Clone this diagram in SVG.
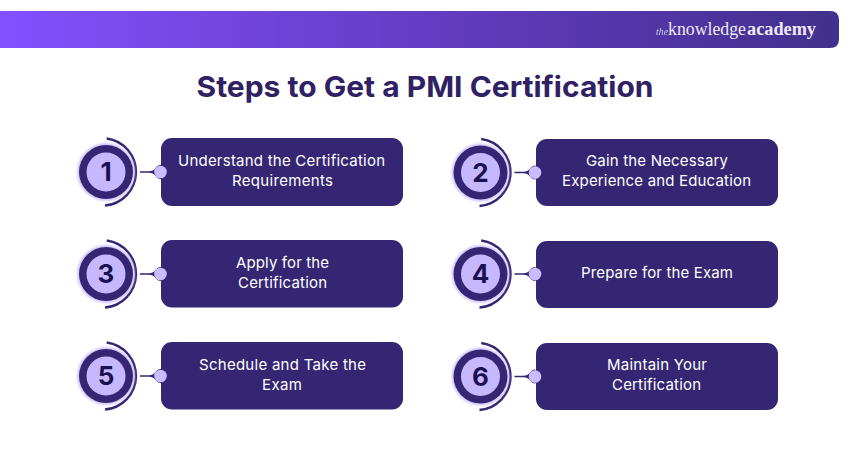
<svg xmlns="http://www.w3.org/2000/svg" width="850" height="450" viewBox="0 0 850 450">
<defs>
<linearGradient id="bar" x1="0" y1="0" x2="1" y2="0"><stop offset="0" stop-color="#8550ff"/><stop offset="0.5" stop-color="#653cc4"/><stop offset="1" stop-color="#41308c"/></linearGradient>
<filter id="glow" x="-30%" y="-30%" width="160%" height="160%"><feGaussianBlur stdDeviation="1.2"/></filter>
<g id="badge">
<circle cx="0" cy="0" r="29" fill="#c4b5fd" opacity="0.75" filter="url(#glow)"/>
<circle cx="0" cy="0" r="27" fill="#352673"/>
<circle cx="0" cy="0" r="19.500" fill="#c6b8ff"/>
</g>
<path id="arc" d="M0.7-33.5A33.7 33.7 0 0 1-1 33.5" fill="none" stroke="#352673" stroke-width="2.400"/>
<g id="link"><path d="M34-.8H43Q47-.8 49.500-4Q51.500-7 55-7V7Q51.500 7 49.500 4Q47 .8 43 .8H34Z" fill="#352673"/></g>
</defs>
<style>
.card{fill:#352673}
.dot{fill:#c9bcff}
.label{font-family:"Inter","Liberation Sans",sans-serif;font-size:15px;fill:#fff;text-anchor:middle}
.num{font-family:"Inter","Liberation Sans",sans-serif;font-weight:700;font-size:26px;fill:#1b1150;text-anchor:middle}
.title{font-family:"Inter","Liberation Sans",sans-serif;font-weight:700;font-size:29px;fill:#2f2163;text-anchor:middle}
.logo{font-family:"Liberation Serif",serif;fill:#efeaf8}
</style>
<rect width="850" height="450" fill="#fff"/>
<g id="header">
<path d="M0 11H830Q839 11 839 20V39Q839 48 830 48H0Z" fill="url(#bar)"/>
<text class="logo" x="656" y="35" font-size="11" font-style="italic" opacity="0.8" textLength="12" lengthAdjust="spacingAndGlyphs">the</text>
<text class="logo" x="668" y="35" font-size="18.500" textLength="78" lengthAdjust="spacingAndGlyphs">knowledge</text>
<text class="logo" x="747" y="35" font-size="18.500" font-weight="700" textLength="69" lengthAdjust="spacingAndGlyphs">academy</text>
</g>
<text class="title" x="425" y="97" textLength="457" lengthAdjust="spacingAndGlyphs">Steps to Get a PMI Certification</text>
<g id="connectors">
<use href="#link" x="106" y="172"/><use href="#link" x="480.500" y="172.500"/>
<use href="#link" x="106" y="274"/><use href="#link" x="480.500" y="274"/>
<use href="#link" x="106" y="376"/><use href="#link" x="480.500" y="376.500"/>
</g>
<g id="node1"><use href="#arc" x="106" y="172"/><use href="#badge" x="106" y="172"/><text class="num" x="106" y="181">1</text><rect class="card" x="161" y="138" width="242" height="68" rx="11"/><text class="label" x="281.500" y="166" textLength="207">Understand the Certification</text><text class="label" x="282.500" y="186" textLength="101">Requirements</text><circle class="dot" cx="160.500" cy="172" r="6.300"/></g>
<g id="node2"><use href="#arc" x="480.500" y="172.500"/><use href="#badge" x="480.500" y="172.500"/><text class="num" x="480.500" y="181.500">2</text><rect class="card" x="536" y="139" width="242" height="67" rx="11"/><text class="label" x="657" y="166" textLength="142">Gain the Necessary</text><text class="label" x="656.500" y="186" textLength="189">Experience and Education</text><circle class="dot" cx="535" cy="172.500" r="6.300"/></g>
<g id="node3"><use href="#arc" x="106" y="274"/><use href="#badge" x="106" y="274"/><text class="num" x="106" y="283">3</text><rect class="card" x="161" y="240" width="242" height="67.500" rx="11"/><text class="label" x="282.500" y="268" textLength="93">Apply for the</text><text class="label" x="282.500" y="288" textLength="89">Certification</text><circle class="dot" cx="160.500" cy="274" r="6.300"/></g>
<g id="node4"><use href="#arc" x="480.500" y="274"/><use href="#badge" x="480.500" y="274"/><text class="num" x="480.500" y="283">4</text><rect class="card" x="536" y="241" width="242" height="67" rx="11"/><text class="label" x="657" y="278" textLength="152">Prepare for the Exam</text><circle class="dot" cx="535" cy="274" r="6.300"/></g>
<g id="node5"><use href="#arc" x="106" y="376"/><use href="#badge" x="106" y="376"/><text class="num" x="106" y="385">5</text><rect class="card" x="161" y="342" width="242" height="67.500" rx="11"/><text class="label" x="282.500" y="370" textLength="167">Schedule and Take the</text><text class="label" x="282" y="390" textLength="40">Exam</text><circle class="dot" cx="160.500" cy="376" r="6.300"/></g>
<g id="node6"><use href="#arc" x="480.500" y="376.500"/><use href="#badge" x="480.500" y="376.500"/><text class="num" x="480.500" y="385.500">6</text><rect class="card" x="536" y="343" width="242" height="67" rx="11"/><text class="label" x="657" y="370" textLength="100">Maintain Your</text><text class="label" x="656.500" y="390" textLength="89">Certification</text><circle class="dot" cx="535" cy="376.500" r="6.300"/></g>
</svg>
